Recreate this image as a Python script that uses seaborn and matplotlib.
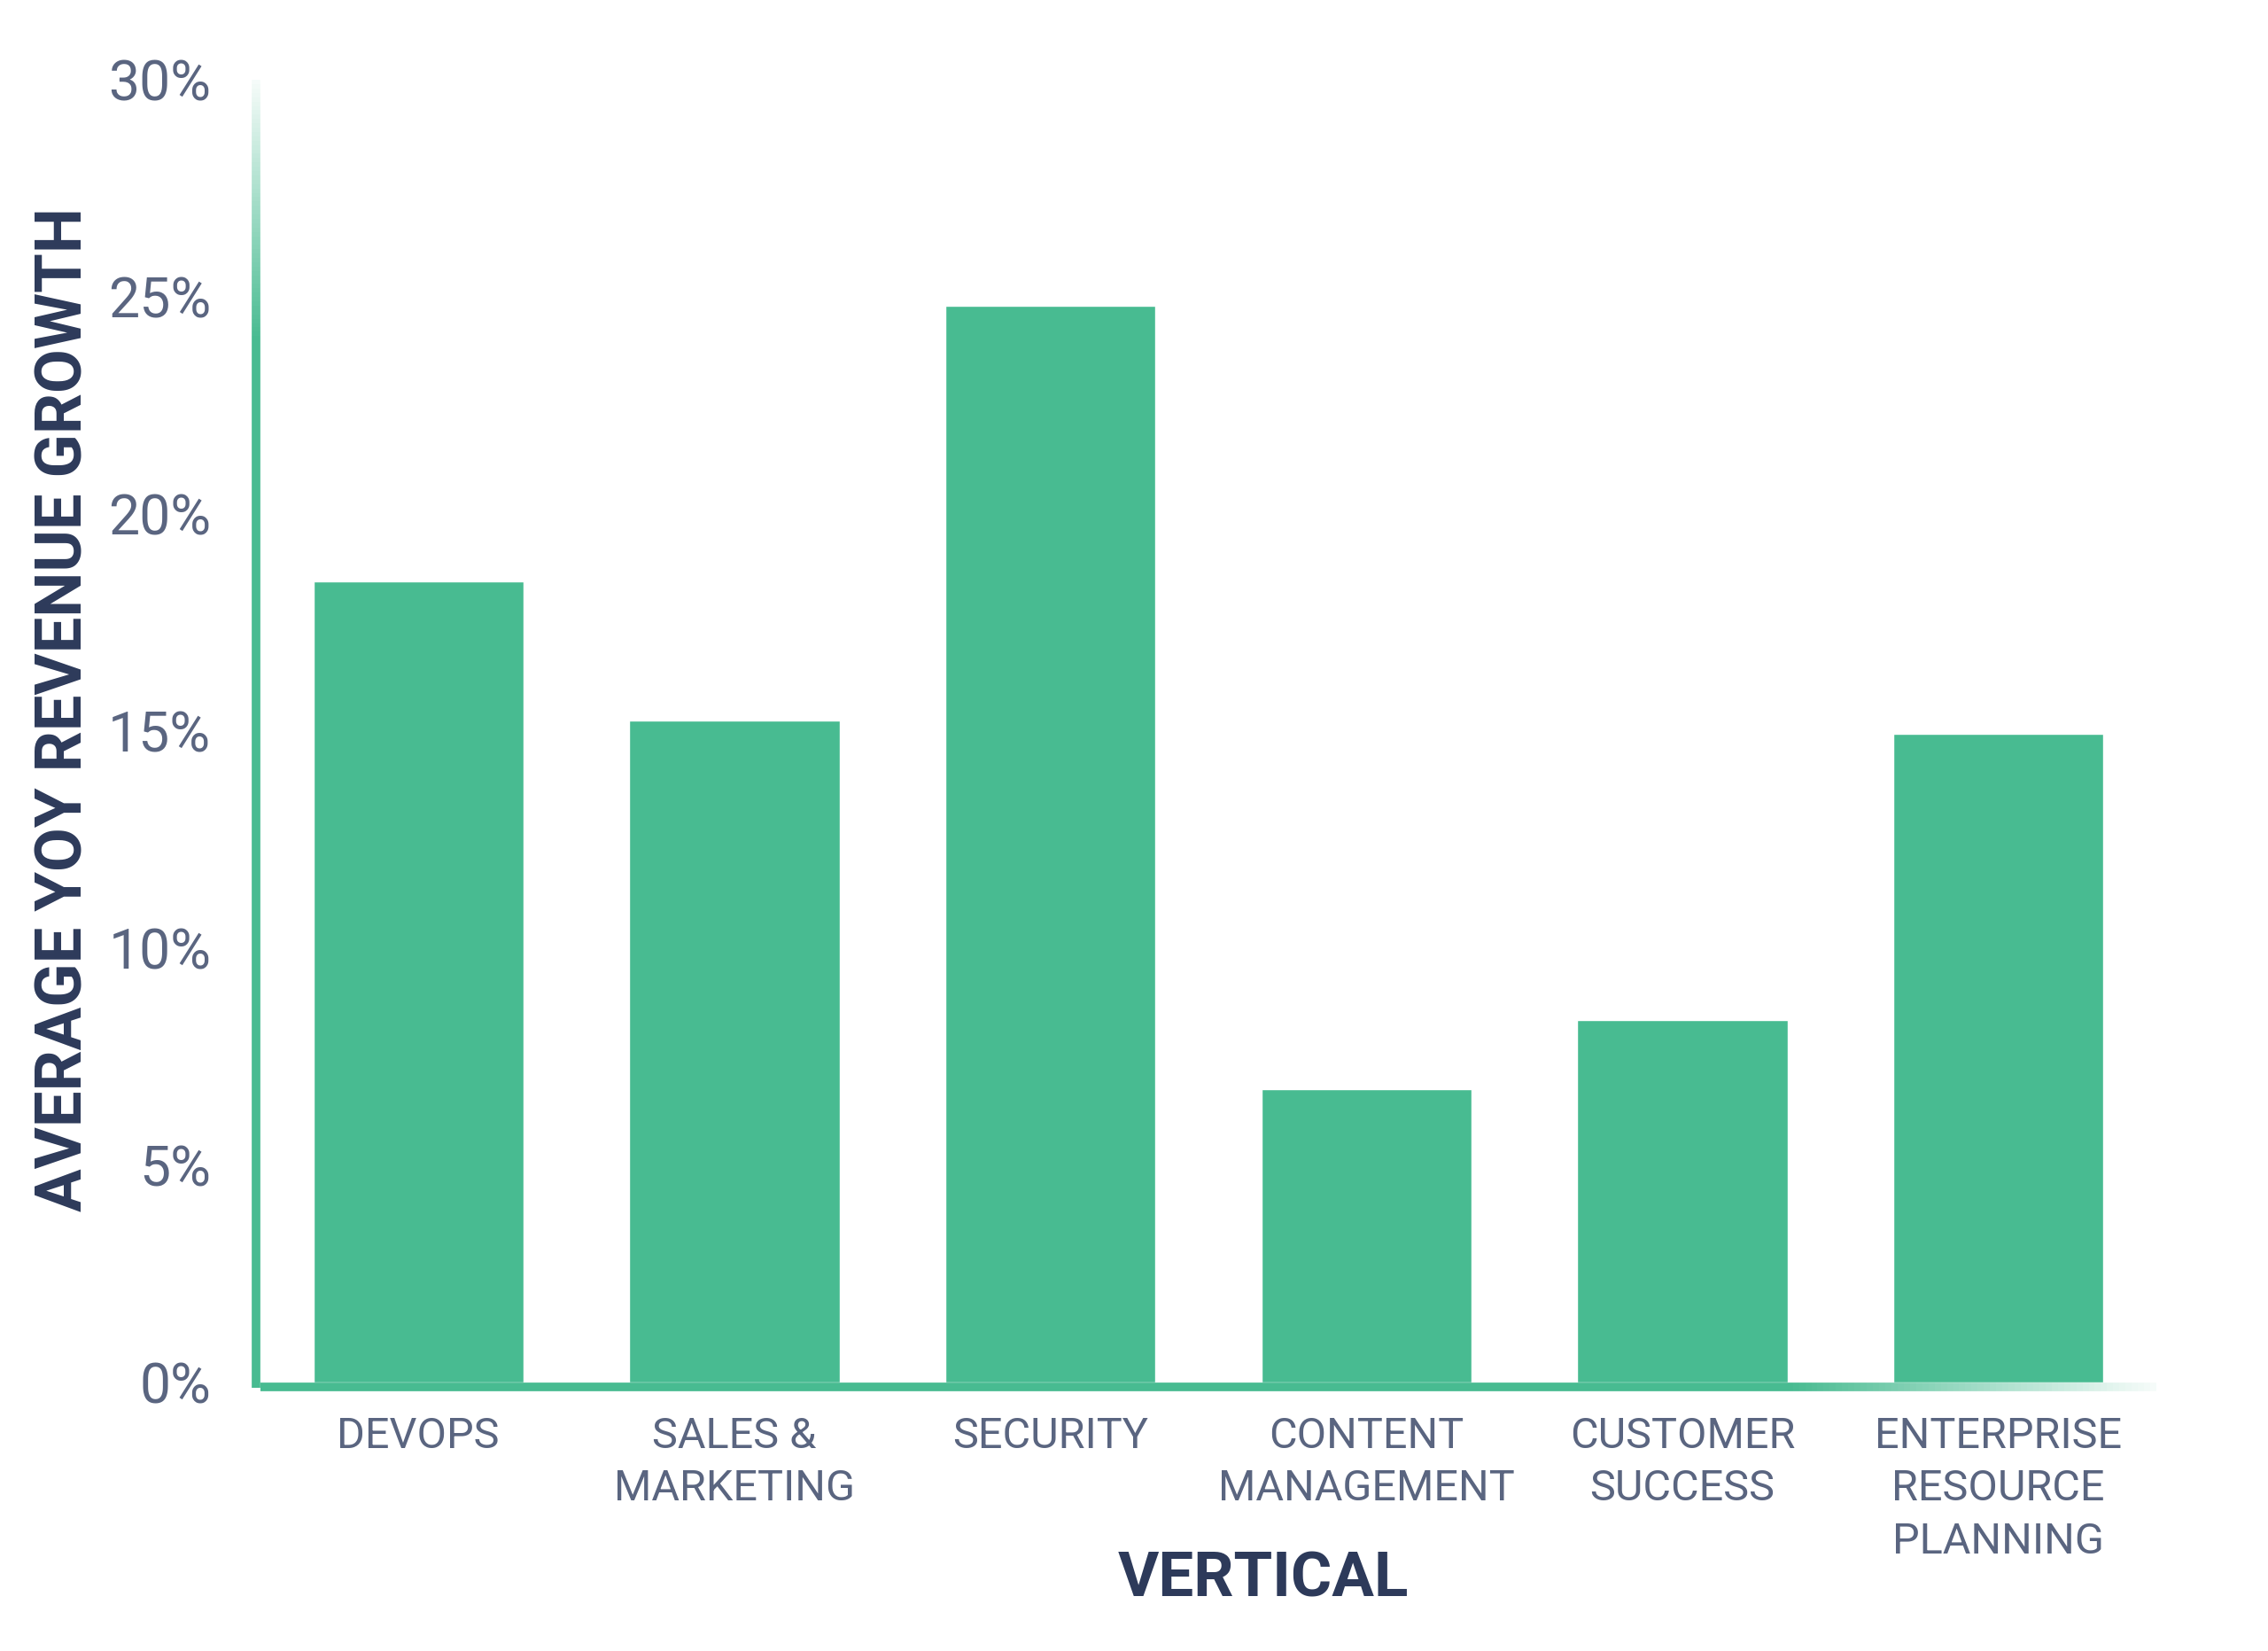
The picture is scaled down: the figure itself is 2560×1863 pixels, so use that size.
import numpy as np
import pandas as pd
import matplotlib
matplotlib.use("Agg")
import matplotlib.pyplot as plt
import matplotlib.transforms as mtrans
from matplotlib.collections import LineCollection
from matplotlib.ticker import FuncFormatter
import seaborn as sns

# data
verticals = ["DEVOPS", "SALES &\nMARKETING", "SECURITY", "CONTENT\nMANAGEMENT",
             "CUSTOMER\nSUCCESS", "ENTERPRISE\nRESOURCE\nPLANNING"]
growth = [18.45, 15.25, 24.8, 6.75, 8.35, 14.95]
y_ticks = [0, 5, 10, 15, 20, 25, 30]

df = pd.DataFrame({"vertical": verticals, "growth": growth})

green = "#48bb91"
tick_col = "#5a6580"
label_col = "#2d3a5a"

sns.set_style("white")
plt.rcParams["font.family"] = ["Roboto", "DejaVu Sans"]

fig = plt.figure(figsize=(25.6, 18.63), dpi=100)
ax = fig.add_axes([0.1148, 0.1626, 0.836, 0.789])

sns.barplot(data=df, x="vertical", y="growth", color=green, saturation=1,
            width=0.665, ax=ax, zorder=2)

ax.set_xlim(-0.5, 5.5)
ax.set_ylim(0, 30)
ax.set_yticks(y_ticks)
ax.yaxis.set_major_formatter(FuncFormatter(lambda v, p: f"{v:.0f}%"))
ax.tick_params(axis="y", length=0, pad=40, labelsize=45, labelcolor=tick_col)
ax.tick_params(axis="x", length=0, pad=27, labelsize=35, labelcolor=tick_col)
for t in ax.get_xticklabels():
    t.set_linespacing(1.38)

for s in ax.spines.values():
    s.set_visible(False)

# spines drawn by hand so they can fade out at the ends
lw = 7
n = 60
# left spine
off_l = mtrans.offset_copy(ax.transAxes, fig=fig, x=-lw / 2, units="points")
ax.plot([0, 0], [-0.004, 0.80], color=green, lw=lw, transform=off_l,
        clip_on=False, solid_capstyle="butt", zorder=3)
ys = np.linspace(0.80, 1.0, n + 1)
segs = [[(0, ys[i]), (0, ys[i + 1])] for i in range(n)]
alphas = np.linspace(1, 0.05, n)
cols = [matplotlib.colors.to_rgba(green, a) for a in alphas]
ax.add_collection(LineCollection(segs, colors=cols, linewidths=lw,
                                 transform=off_l, clip_on=False, zorder=3,
                                 capstyle="butt"))
# bottom spine
off_b = mtrans.offset_copy(ax.transAxes, fig=fig, y=-lw / 2, units="points")
ax.plot([0, 0.805], [0, 0], color=green, lw=lw, transform=off_b,
        clip_on=False, solid_capstyle="butt", zorder=3)
xs = np.linspace(0.805, 1.0, n + 1)
segs = [[(xs[i], 0), (xs[i + 1], 0)] for i in range(n)]
ax.add_collection(LineCollection(segs, colors=cols, linewidths=lw,
                                 transform=off_b, clip_on=False, zorder=3,
                                 capstyle="butt"))

ax.set_xlabel("VERTICAL", fontsize=51, fontweight="bold", color=label_col)
ax.set_ylabel("AVERAGE YOY REVENUE GROWTH", fontsize=52, fontweight="bold",
              color=label_col)
ax.xaxis.set_label_coords(0.529, -0.128)
ax.yaxis.set_label_coords(-0.087, 0.517)

fig.savefig("out.png", dpi=100, facecolor="white")
